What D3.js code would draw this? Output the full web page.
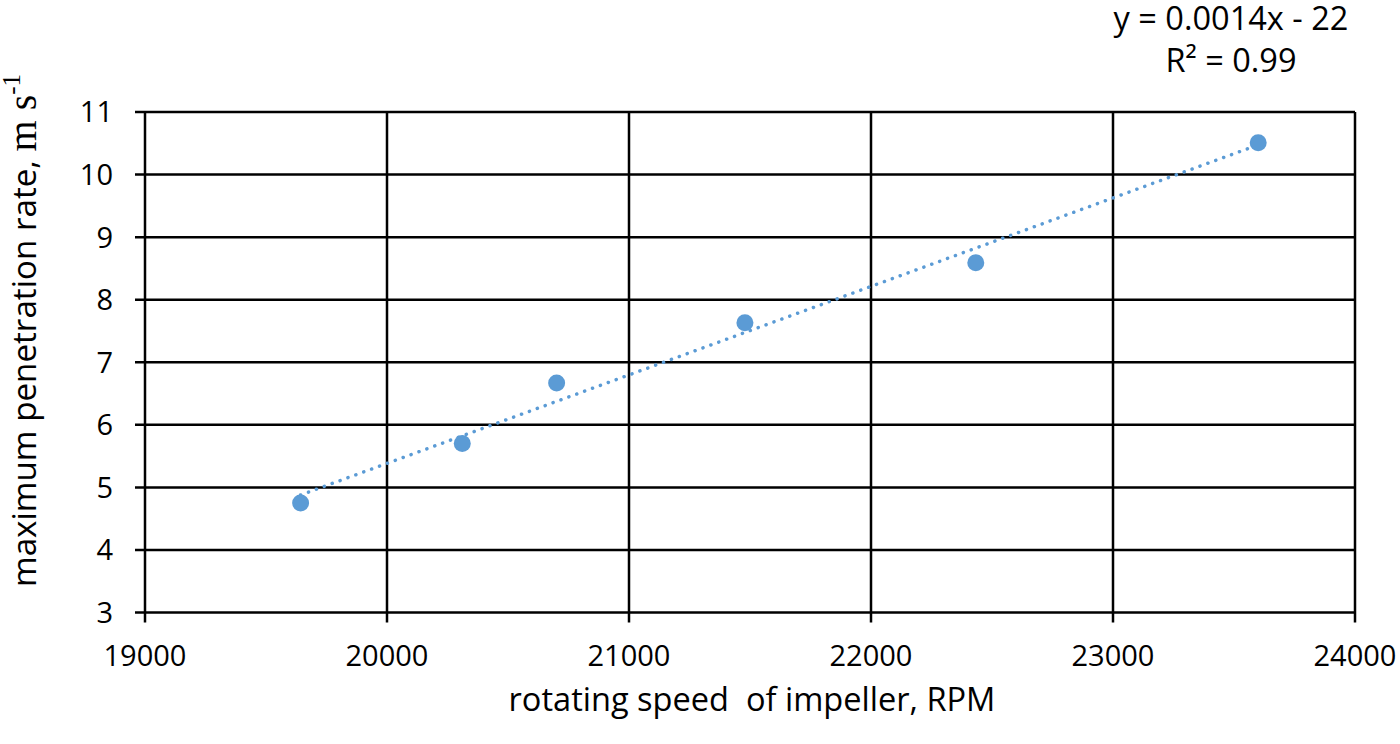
<!DOCTYPE html>
<html>
<head>
<meta charset="utf-8">
<script src="https://cdn.jsdelivr.net/npm/d3@7"></script>
<style>
html,body{margin:0;padding:0;background:#fff;}
svg{display:block;}
text{font-family:"Open Sans", Lato, sans-serif;fill:#000;}
</style>
</head>
<body>
<svg id="chart" width="1400" height="744"></svg>
<script>
// Data
const rpm = [19643, 20311, 20701, 21479, 22433, 23600];
const rate = [4.75, 5.70, 6.67, 7.63, 8.59, 10.51];
const xTicks = [19000, 20000, 21000, 22000, 23000, 24000];
const yTicks = [3, 4, 5, 6, 7, 8, 9, 10, 11];
const equationLines = ["y = 0.0014x - 22", "R² = 0.99"];
const xTitle = "rotating speed  of impeller, RPM";

const svg = d3.select("#chart");
const m = {left:145, right:1355, top:112, bottom:612.5};
const x = d3.scaleLinear().domain([19000, 24000]).range([m.left, m.right]);
const y = d3.scaleLinear().domain([3, 11]).range([m.bottom, m.top]);
const blue = "#5B9BD5";

function fit(sel, target) {
  const node = sel.node();
  const fs = parseFloat(sel.attr("font-size"));
  const w = node.getComputedTextLength();
  if (w > 0) sel.attr("font-size", fs * target / w);
}

// gridlines
const g = svg.append("g");
g.selectAll("line.h").data(yTicks).join("line")
  .attr("x1", m.left - 10).attr("x2", m.right)
  .attr("y1", d => y(d)).attr("y2", d => y(d))
  .attr("stroke", "#000").attr("stroke-width", 2.5);
g.selectAll("line.v").data(xTicks).join("line")
  .attr("x1", d => x(d)).attr("x2", d => x(d))
  .attr("y1", m.top).attr("y2", m.bottom + 10)
  .attr("stroke", "#000").attr("stroke-width", 2.5);

// tick labels
svg.append("g").selectAll("text").data(yTicks).join("text")
  .attr("x", 113).attr("y", d => y(d)).attr("dy", "0.36em")
  .attr("text-anchor", "end").attr("font-size", 29).text(d => d);
svg.append("g").selectAll("text").data(xTicks).join("text")
  .attr("x", d => x(d)).attr("y", 666)
  .attr("text-anchor", "middle").attr("font-size", 29).text(d => d);

// trendline (least squares)
const mx = d3.mean(rpm), my = d3.mean(rate);
const slope = d3.sum(rpm, (v,i) => (v-mx)*(rate[i]-my)) / d3.sum(rpm, v => (v-mx)*(v-mx));
const icpt = my - slope*mx;
const ext = d3.extent(rpm);
svg.append("path")
  .datum(ext)
  .attr("d", d3.line().x(d => x(d)).y(d => y(slope*d + icpt)))
  .attr("stroke", blue).attr("stroke-width", 3.5)
  .attr("stroke-linecap", "round").attr("stroke-dasharray", "0.1 8.3")
  .attr("fill", "none");

// points
svg.append("g").selectAll("circle").data(rpm).join("circle")
  .attr("cx", d => x(d)).attr("cy", (d,i) => y(rate[i]))
  .attr("r", 8.5).attr("fill", blue);

// equation
const eq = svg.append("g").selectAll("text").data(equationLines).join("text")
  .attr("x", 1231).attr("y", (d,i) => 30 + i*42)
  .attr("text-anchor", "middle").attr("font-size", 29).text(d => d);
fit(d3.select(eq.nodes()[0]), 235);
fit(d3.select(eq.nodes()[1]), 131);

// x title
const xt = svg.append("text").attr("x", 752).attr("y", 711)
  .attr("text-anchor", "middle").attr("font-size", 32)
  .style("white-space", "pre").text(xTitle);
fit(xt, 487);

// y title
const yt = svg.append("text")
  .attr("transform", "translate(36,587) rotate(-90)");
const ySans = yt.append("tspan").attr("font-size", 30).text("maximum penetration rate, ");
fit(ySans, 427);
yt.append("tspan").attr("font-family", "'Liberation Serif', 'DejaVu Serif', serif")
  .attr("font-size", 40).text("m s");
yt.append("tspan").attr("font-family", "'Liberation Serif', 'DejaVu Serif', serif")
  .attr("font-size", 25).attr("dy", -16).text("-1");
</script>
</body>
</html>
